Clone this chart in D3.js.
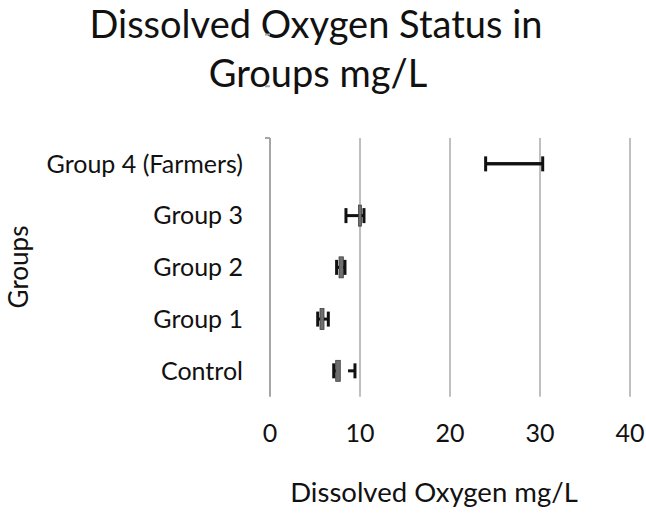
<!DOCTYPE html>
<html>
<head>
<meta charset="utf-8">
<script src="https://cdn.jsdelivr.net/npm/d3@7"></script>
<style>
  html, body { margin: 0; padding: 0; background: #fff; }
  svg { display: block; font-family: Lato, "Open Sans", sans-serif; }
</style>
</head>
<body>
<div id="chart"></div>
<script>
// groups, bottom to top as drawn
const groups = ["Control", "Group 1", "Group 2", "Group 3", "Group 4 (Farmers)"];
// dissolved oxygen, mg/L
const lowCap     = [7.08, 5.30, 7.40, 8.44, 23.96];
const boxStart   = [7.30, 5.56, 7.67, 9.83, null];
const boxEnd     = [7.81, 6.00, 8.15, 10.17, null];
const rightStart = [8.67, 6.00, 8.15, 10.17, 23.96];
const highCap    = [9.44, 6.48, 8.33, 10.44, 30.30];
const xTicks = [0, 10, 20, 30, 40];

const W = 646, H = 514;
const svg = d3.select("#chart").append("svg").attr("width", W).attr("height", H);

const x = d3.scaleLinear().domain([0, 40]).range([270, 630]);
const y = d3.scaleBand().domain(groups.slice().reverse()).range([138, 396.7]);

const rows = groups.map((g, i) => ({
    group: g, lo: lowCap[i], b0: boxStart[i], b1: boxEnd[i], r0: rightStart[i], hi: highCap[i]
}));

// title
const title = svg.append("text")
    .attr("text-anchor", "middle")
    .attr("font-size", 38)
    .attr("fill", "#111");
title.append("tspan").attr("x", 316).attr("y", 38).text("Dissolved Oxygen Status in");
title.append("tspan").attr("x", 318).attr("y", 87).text("Groups mg/L");

// vertical gridlines
svg.append("g")
    .selectAll("line")
    .data(xTicks.filter(d => d > 0))
    .enter()
    .append("line")
    .attr("x1", d => x(d)).attr("x2", d => x(d))
    .attr("y1", y.range()[1]).attr("y2", y.range()[0])
    .attr("stroke", "#bfbfbf")
    .attr("stroke-width", 2);

// category axis on the left, ticks between groups
const yAxis = svg.append("g").attr("transform", `translate(${x(0)},0)`);
yAxis.append("line")
    .attr("x1", 0).attr("x2", 0)
    .attr("y1", y.range()[1]).attr("y2", y.range()[0])
    .attr("stroke", "#a6a6a6").attr("stroke-width", 2);
yAxis.selectAll(".tick")
    .data(d3.range(groups.length + 1))
    .enter()
    .append("line")
    .attr("x1", -5).attr("x2", 0)
    .attr("y1", i => y.range()[0] - i * y.step())
    .attr("y2", i => y.range()[0] - i * y.step())
    .attr("stroke", "#a6a6a6").attr("stroke-width", 2);

svg.append("g")
    .selectAll("text")
    .data(groups)
    .enter()
    .append("text")
    .attr("x", 243)
    .attr("y", d => y(d) + y.bandwidth() / 2)
    .attr("dy", "0.35em")
    .attr("text-anchor", "end")
    .attr("font-size", 25)
    .attr("fill", "#111")
    .text(d => d);

// x tick labels
svg.append("g")
    .selectAll("text")
    .data(xTicks)
    .enter()
    .append("text")
    .attr("x", d => x(d))
    .attr("y", 442)
    .attr("text-anchor", "middle")
    .attr("font-size", 25)
    .attr("fill", "#111")
    .text(d => d);

// axis titles
svg.append("text")
    .attr("x", 434).attr("y", 502)
    .attr("text-anchor", "middle")
    .attr("font-size", 27.5)
    .attr("fill", "#111")
    .text("Dissolved Oxygen mg/L");

svg.append("text")
    .attr("transform", "translate(28,267) rotate(-90)")
    .attr("text-anchor", "middle")
    .attr("font-size", 26)
    .attr("fill", "#111")
    .text("Groups");

// boxes and error bars
const marks = svg.append("g")
    .selectAll("g")
    .data(rows)
    .enter()
    .append("g")
    .attr("transform", d => `translate(0,${y(d.group) + y.bandwidth() / 2})`);

marks.filter(d => d.b0 != null)
    .append("rect")
    .attr("x", d => x(d.b0))
    .attr("width", d => x(d.b1) - x(d.b0))
    .attr("y", -10.5)
    .attr("height", 21)
    .attr("fill", "#6f6f6f")
    .attr("stroke", "#404040")
    .attr("stroke-width", 0.8);

const bar = "#111";
marks.append("line")
    .attr("x1", d => x(d.lo))
    .attr("x2", d => x(d.b0 != null ? d.b0 : d.hi))
    .attr("stroke", bar).attr("stroke-width", 3);
marks.append("line")
    .attr("x1", d => x(d.r0))
    .attr("x2", d => x(d.hi))
    .attr("stroke", bar).attr("stroke-width", 3);
marks.append("line")
    .attr("x1", d => x(d.lo)).attr("x2", d => x(d.lo))
    .attr("y1", -7.5).attr("y2", 7.5)
    .attr("stroke", bar).attr("stroke-width", 3);
marks.append("line")
    .attr("x1", d => x(d.hi)).attr("x2", d => x(d.hi))
    .attr("y1", -7.5).attr("y2", 7.5)
    .attr("stroke", bar).attr("stroke-width", 3);
</script>
</body>
</html>
